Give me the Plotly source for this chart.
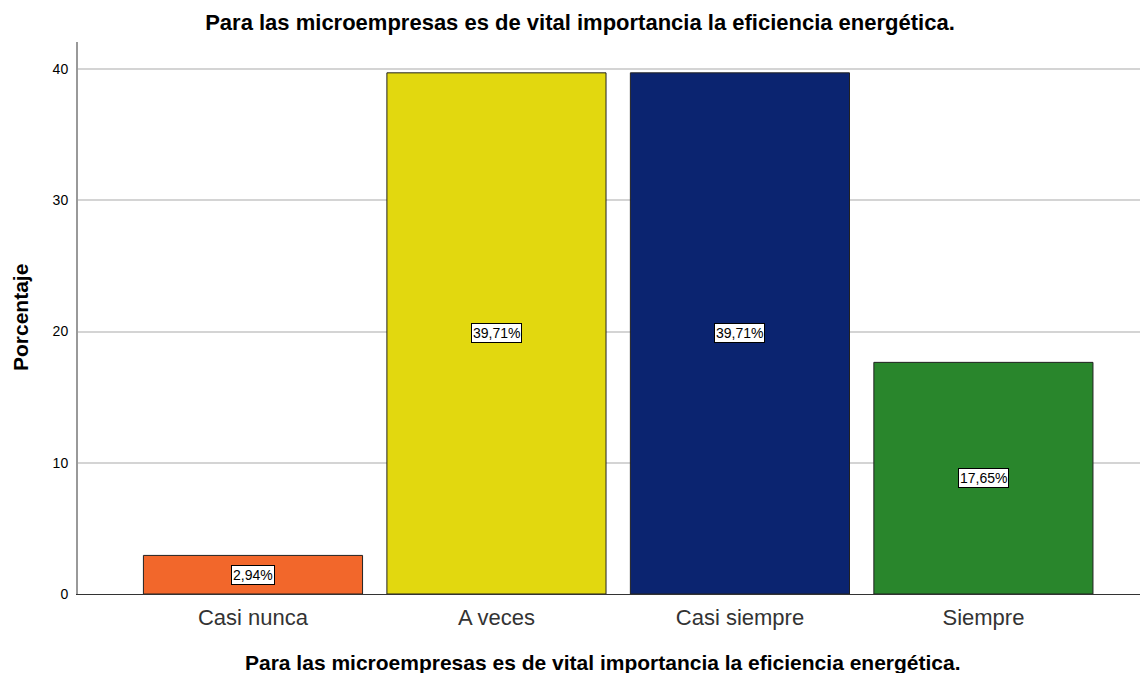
import plotly.graph_objects as go

categories = ["Casi nunca", "A veces", "Casi siempre", "Siempre"]
values = [2.94, 39.71, 39.71, 17.65]
labels = ["2,94%", "39,71%", "39,71%", "17,65%"]
colors = ["#F2672B", "#E2D80F", "#0B2470", "#29862C"]
title_text = "Para las microempresas es de vital importancia la eficiencia energética."
y_title = "Porcentaje"

FONT = "Liberation Sans, Arial, sans-serif"

# the page body has an 8px margin, so the figure is drawn 8px smaller
W, H = 1140, 665
L, T, B = 70, 34, 79
plot_h = H - T - B
plot_w = W - L

fig = go.Figure(go.Bar(
    x=categories, y=values,
    marker=dict(color=colors, line=dict(color="#222222", width=1)),
    width=0.9,
    hoverinfo="skip",
))

for c, v, t in zip(categories, values, labels):
    fig.add_annotation(
        x=c, y=v / 2, text=t, showarrow=False,
        font=dict(family=FONT, size=14, color="#000000"),
        bgcolor="white", bordercolor="#000000", borderwidth=1, borderpad=1,
    )

# axis titles
fig.add_annotation(
    xref="paper", yref="paper", x=(603 - 78) / plot_w, y=-(662 - 594) / plot_h,
    text="<b>" + title_text + "</b>", showarrow=False,
    xanchor="center", yanchor="middle",
    font=dict(family=FONT, size=21, color="#000000"),
)
fig.add_annotation(
    xref="paper", yref="paper", x=-(78 - 20) / plot_w, y=(594 - 318) / plot_h,
    text="<b>" + y_title + "</b>", showarrow=False, textangle=-90,
    xanchor="center", yanchor="middle",
    font=dict(family=FONT, size=21, color="#000000"),
)

fig.update_layout(
    width=W, height=H,
    margin=dict(l=L, r=0, t=T, b=B),
    paper_bgcolor="white", plot_bgcolor="white",
    showlegend=False,
    title=dict(text="<b>" + title_text + "</b>", x=(580 - 8) / W, xanchor="center",
               y=1 - 14 / H, yanchor="middle",
               font=dict(family=FONT, size=22, color="#000000")),
    font=dict(family=FONT),
)

fig.update_xaxes(
    range=[-0.7187, 3.676],
    showline=True, linecolor="#333333", linewidth=1,
    ticks="outside", ticklen=4, tickcolor="rgba(0,0,0,0)",
    tickfont=dict(family=FONT, size=22, color="#333333"),
    showgrid=False, zeroline=False,
)
fig.update_yaxes(
    range=[0, 42.06],
    tickvals=[0, 10, 20, 30, 40],
    showline=True, linecolor="#999999", linewidth=2,
    ticks="outside", ticklen=5, tickcolor="rgba(0,0,0,0)",
    tickfont=dict(family=FONT, size=14, color="#000000"),
    showgrid=True, gridcolor="#D4D4D4", gridwidth=1.5,
    zeroline=False,
)

fig.write_html("out.html")
